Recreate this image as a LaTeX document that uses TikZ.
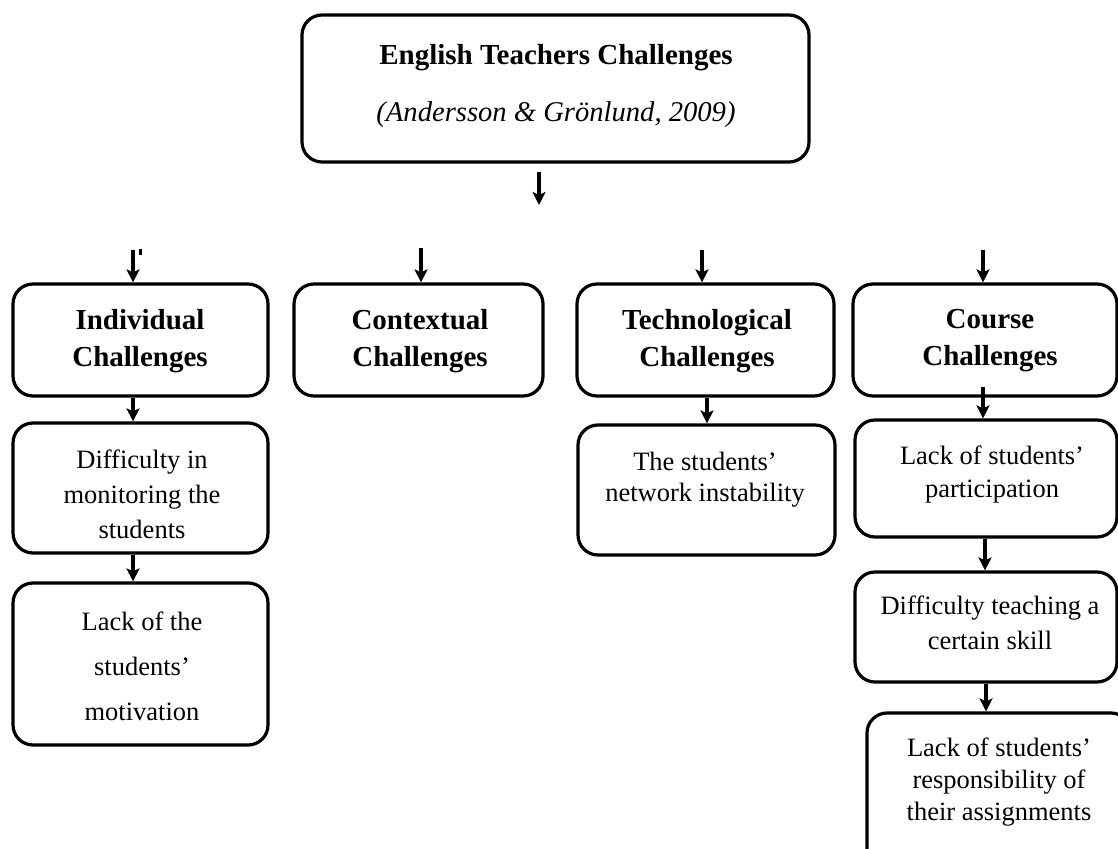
\documentclass[tikz,border=0pt]{standalone}
\usepackage{fontspec}
\setmainfont{Liberation Serif}
\usetikzlibrary{arrows.meta,fit}
\begin{document}
\begin{tikzpicture}[x=0.5pt,y=-0.5pt]
\tikzset{
  box/.style={draw, line width=1.6pt, rounded corners=10pt, inner sep=0pt},
  head/.style={font=\fontsize{14.5}{18.5}\selectfont\bfseries, align=center, inner sep=0pt},
  body/.style={font=\fontsize{13.25}{17.5}\selectfont, align=center, inner sep=0pt},
  arr/.style={line width=1.6pt, -{Stealth[length=6.5pt,width=6.5pt,inset=1.5pt]}},
}
\useasboundingbox (0,0) rectangle (1118,849);
\clip (0,0) rectangle (1118,849);
\fill[white] (0,0) rectangle (1118,849);

% boxes
\node[box, fit={(302,15) (809,162)}] (top) {};
\node[box, fit={(13,284) (268,396)}] (ind) {};
\node[box, fit={(294,284) (543,396)}] (con) {};
\node[box, fit={(577,284) (834,396)}] (tec) {};
\node[box, fit={(853,284) (1117,396)}] (cou) {};
\node[box, fit={(13,423) (268,553)}] (dif) {};
\node[box, fit={(13,583) (268,745)}] (mot) {};
\node[box, fit={(578,425) (835,555)}] (net) {};
\node[box, fit={(855,420) (1117,537)}] (par) {};
\node[box, fit={(855,572) (1117,682)}] (ski) {};
\node[box, fit={(867,713) (1131,870)}] (res) {};

% texts
\node[head] (ttop) at (556,58) {English Teachers Challenges};
\node[body, font=\fontsize{14.3}{17}\selectfont\itshape] (tcite) at (556,115) {(Andersson \& Grönlund, 2009)};
\node[head] (tind) at (140,341) {Individual\\Challenges};
\node[head] (tcon) at (420,341) {Contextual\\Challenges};
\node[head] (ttec) at (707,341) {Technological\\Challenges};
\node[head] (tcou) at (990,341) {Course\\Challenges};
\node[body] (tdif) at (142,494) {Difficulty in\\monitoring the\\students};
\node[body, font=\fontsize{13.25}{22.5}\selectfont] (tmot) at (142,666) {Lack of the\\students’\\motivation};
\node[body, font=\fontsize{13.25}{15.5}\selectfont] (tnet) at (705,480) {The students’\\network instability};
\node[body, font=\fontsize{13.25}{16.5}\selectfont] (tpar) at (992,474) {Lack of students’\\participation};
\node[body] (tski) at (990,623) {Difficulty teaching a\\certain skill};
\node[body, font=\fontsize{13.25}{16}\selectfont] (tres) at (999,782) {Lack of students’\\responsibility of\\their assignments};

% free arrow ends
\coordinate (a0s) at (539,172);
\coordinate (a0e) at (539,205);
\coordinate (s1) at (133,250);
\coordinate (s2) at (421,248);
\coordinate (s3) at (702,250);
\coordinate (s4) at (983,250);
\coordinate (s5) at (707,396);
\coordinate (s6) at (983,387);
\coordinate (s7) at (985,537);
\coordinate (s8) at (986,682);

% connectors
\draw[arr] (a0s) -- (a0e);
\draw[arr] (s1) -- (s1 |- ind.north);
\draw[arr] (s2) -- (s2 |- con.north);
\draw[arr] (s3) -- (s3 |- tec.north);
\draw[arr] (s4) -- (s4 |- cou.north);
\draw[arr] (s1 |- ind.south) -- (s1 |- dif.north);
\draw[arr] (s1 |- dif.south) -- (s1 |- mot.north);
\draw[arr] (s5 |- tec.south) -- (s5 |- net.north);
\draw[arr] (s6) -- (s6 |- par.north);
\draw[arr] (s7 |- par.south) -- (s7 |- ski.north);
\draw[arr] (s8 |- ski.south) -- (s8 |- res.north);

% small stray tick beside first arrow
\fill (139,249) rectangle (142,255);
\end{tikzpicture}
\end{document}
